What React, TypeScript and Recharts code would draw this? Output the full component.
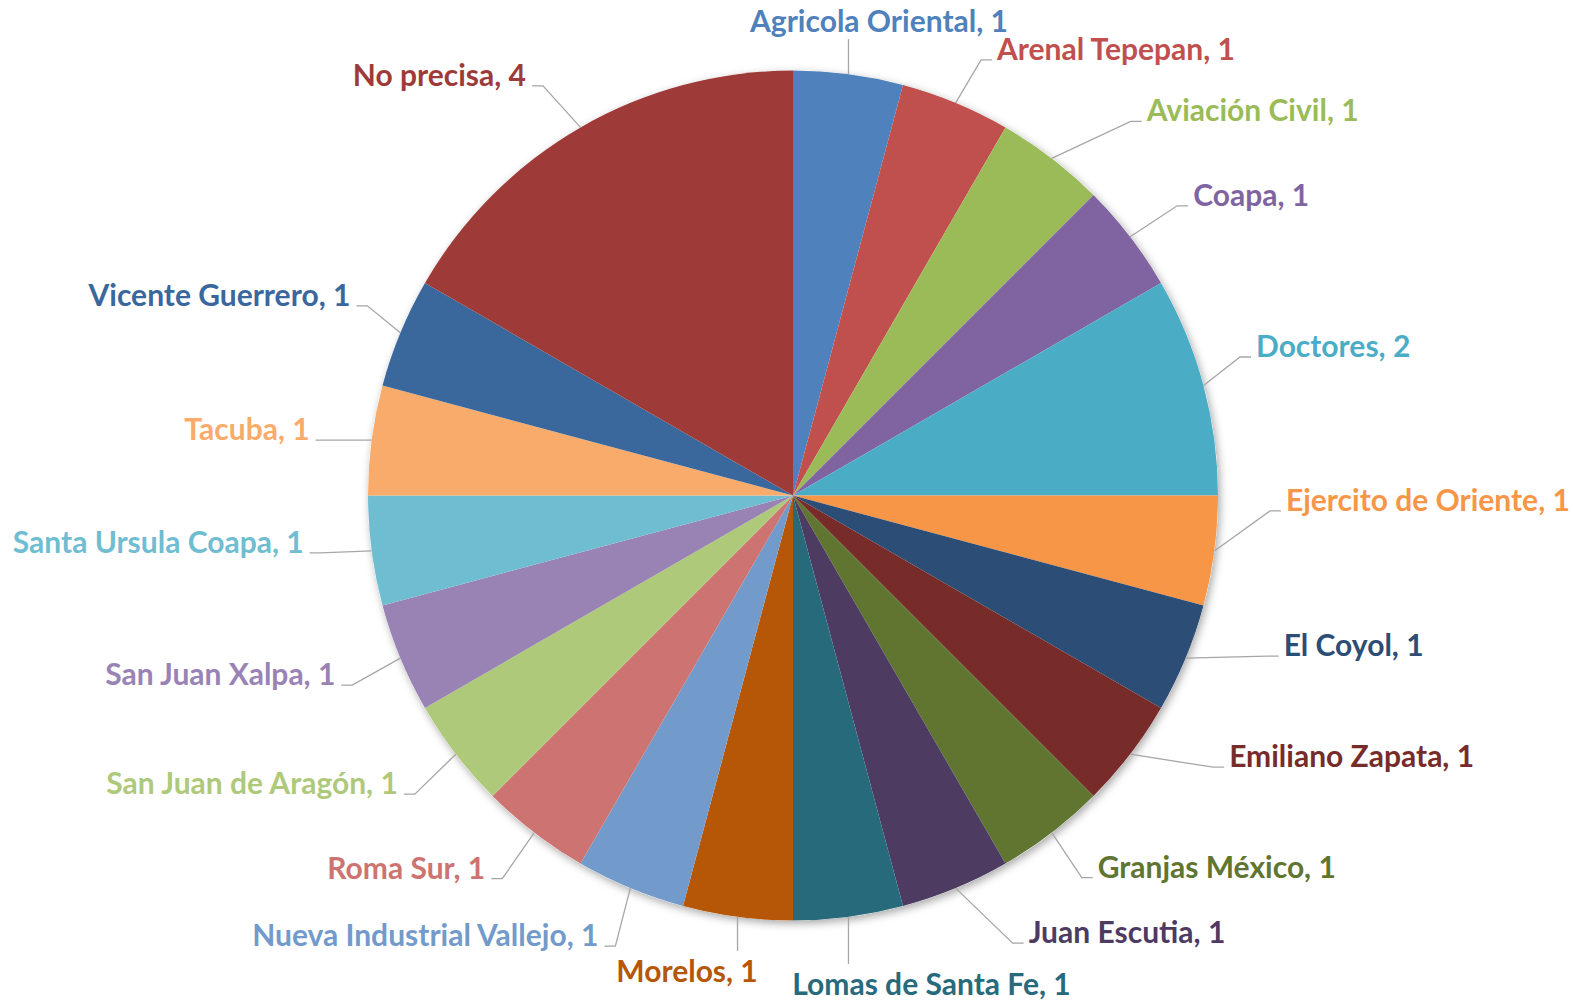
import React from 'react';
import { PieChart, Pie, Cell } from 'recharts';

const names = [
  'Agricola Oriental', 'Arenal Tepepan', 'Aviación Civil', 'Coapa', 'Doctores',
  'Ejercito de Oriente', 'El Coyol', 'Emiliano Zapata', 'Granjas México', 'Juan Escutia',
  'Lomas de Santa Fe', 'Morelos', 'Nueva Industrial Vallejo', 'Roma Sur', 'San Juan de Aragón',
  'San Juan Xalpa', 'Santa Ursula Coapa', 'Tacuba', 'Vicente Guerrero', 'No precisa',
];
const counts = [1, 1, 1, 1, 2, 1, 1, 1, 1, 1, 1, 1, 1, 1, 1, 1, 1, 1, 1, 4];

const colors = [
  '#4F81BD', '#C0504D', '#9BBB59', '#8064A2', '#4BACC6', '#F79646',
  '#2C4D75', '#772C2A', '#5F7530', '#4D3B62', '#276A7C', '#B65708',
  '#729ACA', '#CD7371', '#AFC97A', '#9983B5', '#6FBDD1', '#F9AB6B',
  '#3A679C', '#9E3B39',
];

// Excel-style manual label placement: leader elbow offset from the slice rim point.
// entries with dx = 0 have a vertical leader, third value shifts the centered text.
const labelOffsets: number[][] = [
  [0, -35, 30.5], [25.4, -43], [79, -37], [47, -31], [36.5, -28.5],
  [55.6, -40], [82, -2], [83, 13], [30, 45], [57, 55],
  [0, 47, 83], [0, 34, -50.5], [-15, 58], [-32, 46], [-41, 40],
  [-48, 27], [-51, 2], [-45, 0], [-33, -27], [-37.5, -41.5],
];

const data = names.map((name, i) => ({ name, value: counts[i] }));
const shadowData = [{ name: 'shadow', value: 1 }];

const RAD = Math.PI / 180;
const FONT = 'Lato, "Open Sans", sans-serif';
const LEADER = '#A6A6A6';

const renderLabel = (props: any) => {
  const { cx, cy, midAngle, outerRadius, index, name, value } = props;
  const ex = cx + outerRadius * Math.cos(-midAngle * RAD);
  const ey = cy + outerRadius * Math.sin(-midAngle * RAD);
  const [dx, dy, shift] = labelOffsets[index];
  const bx = ex + dx;
  const by = ey + dy;
  const color = colors[index];
  const text = `${name}, ${value}`;
  const textStyle = { fontFamily: FONT, fontWeight: 700, fontSize: 30 };

  if (dx === 0) {
    const ty = dy < 0 ? by - 7 : by + 31;
    return (
      <g key={`lbl-${index}`}>
        <line x1={ex} y1={ey} x2={bx} y2={by} stroke={LEADER} strokeWidth={1.3} />
        <text x={bx + shift} y={ty} textAnchor="middle" fill={color} style={textStyle}>
          {text}
        </text>
      </g>
    );
  }

  const right = dx > 0;
  const sx = bx + (right ? 11 : -11);
  const tx = sx + (right ? 5 : -6);
  return (
    <g key={`lbl-${index}`}>
      <polyline
        points={`${ex},${ey} ${bx},${by} ${sx},${by}`}
        fill="none"
        stroke={LEADER}
        strokeWidth={1.3}
      />
      <text x={tx} y={by} textAnchor={right ? 'start' : 'end'} fill={color} style={textStyle}>
        {text}
      </text>
    </g>
  );
};

export default function App() {
  return (
    <div style={{ position: 'absolute', left: 0, top: 0, width: 1573, height: 1003, background: '#fff' }}>
      <svg width={0} height={0} style={{ position: 'absolute' }}>
        <defs>
          <filter id="pieShadow" x="-10%" y="-10%" width="120%" height="120%">
            <feDropShadow dx={2} dy={3} stdDeviation={4} floodColor="#000" floodOpacity={0.35} />
          </filter>
        </defs>
      </svg>
      <style>{'.pie-shadow .recharts-sector { filter: url(#pieShadow); }'}</style>
      <PieChart width={1573} height={1003} margin={{ top: 0, right: 0, bottom: 0, left: 0 }}>
        <Pie
          className="pie-shadow"
          data={shadowData}
          dataKey="value"
          cx={793}
          cy={495.5}
          outerRadius={425}
          startAngle={90}
          endAngle={-270}
          stroke="none"
          fill="#fff"
          isAnimationActive={false}
        />
        <Pie
          data={data}
          dataKey="value"
          nameKey="name"
          cx={793}
          cy={495.5}
          outerRadius={425}
          startAngle={90}
          endAngle={-270}
          stroke="none"
          label={renderLabel}
          labelLine={false}
          isAnimationActive={false}
        >
          {data.map((d, i) => (
            <Cell key={d.name} fill={colors[i]} />
          ))}
        </Pie>
      </PieChart>
    </div>
  );
}
